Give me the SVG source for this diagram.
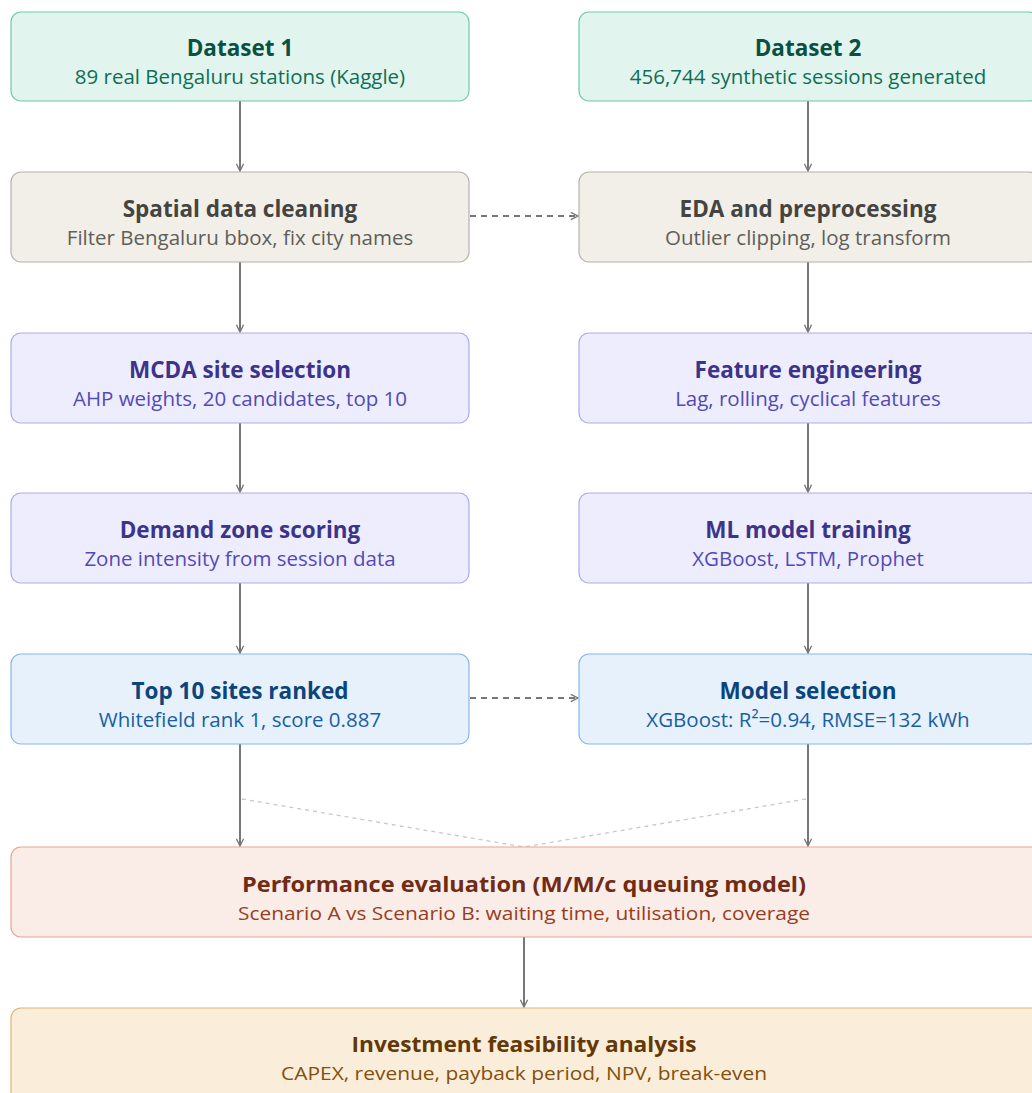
<svg xmlns="http://www.w3.org/2000/svg" width="1032" height="1093" viewBox="0 0 1032 1093">
<defs>
<marker id="arr" viewBox="0 0 10 10" refX="9" refY="5" markerWidth="9" markerHeight="9" markerUnits="userSpaceOnUse" orient="auto-start-reverse">
<path d="M1 1 L9 5 L1 9" fill="none" stroke="#777" stroke-width="1.5"/>
</marker>
<style>
text{font-family:"Open Sans","Noto Sans","DejaVu Sans",sans-serif;text-anchor:middle}
.t{font-size:22.5px;font-weight:700}
.s{font-size:20.5px}
.tc{font-size:22px;font-weight:700}
.sc{font-size:19px}
rect{stroke-width:1.2}
.g rect{fill:#e1f5ee;stroke:#6fcaa8}.g .t{fill:#085041}.g .s{fill:#0f6e56}
.n rect{fill:#f1efe8;stroke:#b4b2a9}.n .t{fill:#444441}.n .s{fill:#5f5e5a}
.p rect{fill:#eeedfe;stroke:#afa9ec}.p .t{fill:#3c3489}.p .s{fill:#534ab7}
.b rect{fill:#e6f1fb;stroke:#85b7eb}.b .t{fill:#0c447c}.b .s{fill:#185fa5}
.c rect{fill:#faece7;stroke:#e8a58c}.c .tc{fill:#712b13}.c .sc{fill:#993c1d}
.a rect{fill:#faeeda;stroke:#e2b470}.a .tc{fill:#633806}.a .sc{fill:#854f0b}
.ln{stroke:#777;stroke-width:2;fill:none}
.dl{stroke:#777;stroke-width:2;fill:none;stroke-dasharray:6 5}
.lt{stroke:#c8c8c8;stroke-width:1.3;fill:none;stroke-dasharray:4 4}
</style>
</defs>
<g id="connectors">
<line class="ln" x1="240" y1="101" x2="240" y2="171" marker-end="url(#arr)"/>
<line class="ln" x1="240" y1="262" x2="240" y2="332" marker-end="url(#arr)"/>
<line class="ln" x1="240" y1="423" x2="240" y2="492" marker-end="url(#arr)"/>
<line class="ln" x1="240" y1="583" x2="240" y2="653" marker-end="url(#arr)"/>
<line class="ln" x1="240" y1="744" x2="240" y2="846" marker-end="url(#arr)"/>
<line class="ln" x1="808" y1="101" x2="808" y2="171" marker-end="url(#arr)"/>
<line class="ln" x1="808" y1="262" x2="808" y2="332" marker-end="url(#arr)"/>
<line class="ln" x1="808" y1="423" x2="808" y2="492" marker-end="url(#arr)"/>
<line class="ln" x1="808" y1="583" x2="808" y2="653" marker-end="url(#arr)"/>
<line class="ln" x1="808" y1="744" x2="808" y2="846" marker-end="url(#arr)"/>
<line class="ln" x1="524" y1="937" x2="524" y2="1007" marker-end="url(#arr)"/>
<line class="dl" x1="470" y1="216" x2="578" y2="216" marker-end="url(#arr)"/>
<line class="dl" x1="470" y1="698" x2="578" y2="698" marker-end="url(#arr)"/>
<line class="lt" x1="242" y1="799" x2="524" y2="847"/>
<line class="lt" x1="806" y1="799" x2="524" y2="847"/>
</g>
<g id="dataset1" class="g"><rect x="11" y="12" width="458" height="89" rx="10"/><text class="t" x="240" y="56">Dataset 1</text><text class="s" x="240" y="84">89 real Bengaluru stations (Kaggle)</text></g>
<g id="dataset2" class="g"><rect x="579" y="12" width="460" height="89" rx="10"/><text class="t" x="808" y="56">Dataset 2</text><text class="s" x="808" y="84">456,744 synthetic sessions generated</text></g>
<g id="spatial" class="n"><rect x="11" y="172" width="458" height="90" rx="10"/><text class="t" x="240" y="217">Spatial data cleaning</text><text class="s" x="240" y="245">Filter Bengaluru bbox, fix city names</text></g>
<g id="eda" class="n"><rect x="579" y="172" width="460" height="90" rx="10"/><text class="t" x="808" y="217">EDA and preprocessing</text><text class="s" x="808" y="245">Outlier clipping, log transform</text></g>
<g id="mcda" class="p"><rect x="11" y="333" width="458" height="90" rx="10"/><text class="t" x="240" y="378">MCDA site selection</text><text class="s" x="240" y="406">AHP weights, 20 candidates, top 10</text></g>
<g id="feature" class="p"><rect x="579" y="333" width="460" height="90" rx="10"/><text class="t" x="808" y="378">Feature engineering</text><text class="s" x="808" y="406">Lag, rolling, cyclical features</text></g>
<g id="demand" class="p"><rect x="11" y="493" width="458" height="90" rx="10"/><text class="t" x="240" y="538">Demand zone scoring</text><text class="s" x="240" y="566">Zone intensity from session data</text></g>
<g id="mltrain" class="p"><rect x="579" y="493" width="460" height="90" rx="10"/><text class="t" x="808" y="538">ML model training</text><text class="s" x="808" y="566">XGBoost, LSTM, Prophet</text></g>
<g id="top10" class="b"><rect x="11" y="654" width="458" height="90" rx="10"/><text class="t" x="240" y="699">Top 10 sites ranked</text><text class="s" x="240" y="727">Whitefield rank 1, score 0.887</text></g>
<g id="modelsel" class="b"><rect x="579" y="654" width="460" height="90" rx="10"/><text class="t" x="808" y="699">Model selection</text><text class="s" x="808" y="727">XGBoost: R²=0.94, RMSE=132 kWh</text></g>
<g id="perf" class="c"><rect x="11" y="847" width="1032" height="90" rx="10"/><text class="tc" x="524" y="892" textLength="564" lengthAdjust="spacingAndGlyphs">Performance evaluation (M/M/c queuing model)</text><text class="sc" x="524" y="920" textLength="572" lengthAdjust="spacingAndGlyphs">Scenario A vs Scenario B: waiting time, utilisation, coverage</text></g>
<g id="invest" class="a"><rect x="11" y="1008" width="1032" height="100" rx="10"/><text class="tc" x="524" y="1052" textLength="345" lengthAdjust="spacingAndGlyphs">Investment feasibility analysis</text><text class="sc" x="524" y="1080" textLength="486" lengthAdjust="spacingAndGlyphs">CAPEX, revenue, payback period, NPV, break-even</text></g>
</svg>
